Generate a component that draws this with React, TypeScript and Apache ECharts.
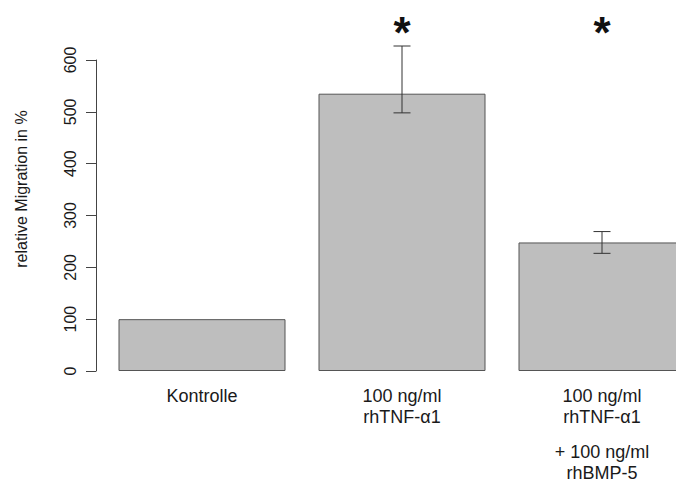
import React, { useEffect, useRef } from "react";
import * as echarts from "echarts";

const categories = [
  "Kontrolle",
  "100 ng/ml\nrhTNF-α1",
  "100 ng/ml\nrhTNF-α1\n+ 100 ng/ml\nrhBMP-5",
];
const migration = [100, 535, 248];
const errLow = [null, 498, 227];
const errHigh = [null, 627, 269];
const significance = ["", "*", "*"];
const starLevel = 696;
const yTicks = { min: 0, max: 600, interval: 100 };

const FONT = "'Liberation Sans', Arial, Helvetica, sans-serif";

export default function App() {
  const ref = useRef<HTMLDivElement>(null);

  useEffect(() => {
    if (!ref.current) return;
    const chart = echarts.init(ref.current, undefined, { renderer: "svg" });

    const errData = categories
      .map((_, i) => (errLow[i] == null ? null : [i, errLow[i], errHigh[i]]))
      .filter((d) => d != null);
    const starData = categories
      .map((_, i) => (significance[i] ? [i, starLevel, significance[i]] : null))
      .filter((d) => d != null);

    chart.setOption({
      animation: false,
      backgroundColor: "#ffffff",
      textStyle: { fontFamily: FONT },
      grid: {
        left: 102,
        right: 18,
        top: 60,
        bottom: 108,
        containLabel: false,
        outerBoundsMode: "none",
      },
      xAxis: {
        type: "category",
        data: categories,
        axisLine: { show: false },
        axisTick: { show: false },
        axisLabel: {
          interval: 0,
          margin: 14,
          color: "#1a1a1a",
          formatter: (v: string) => {
            const lines = v.split("\n");
            const out: string[] = [];
            lines.forEach((l) => {
              if (l.startsWith("+")) out.push("{g| }");
              out.push("{a|" + l + "}");
            });
            return out.join("\n");
          },
          rich: {
            a: { fontSize: 18, lineHeight: 21.5, fontFamily: FONT, color: "#1a1a1a" },
            g: { fontSize: 1, lineHeight: 13 },
          },
        },
      },
      yAxis: {
        type: "value",
        min: yTicks.min,
        max: yTicks.max,
        interval: yTicks.interval,
        offset: 6,
        name: "relative Migration in %",
        nameLocation: "middle",
        nameRotate: 90,
        nameGap: 67,
        nameTextStyle: {
          fontSize: 16,
          color: "#1a1a1a",
          fontFamily: FONT,
          padding: [0, 0, 0, 53],
        },
        axisLine: { show: true, lineStyle: { color: "#444", width: 1 } },
        axisTick: { show: true, length: 10, lineStyle: { color: "#444", width: 1 } },
        splitLine: { show: false },
        axisLabel: {
          rotate: 90,
          margin: 18,
          fontSize: 16,
          color: "#1a1a1a",
          fontFamily: FONT,
        },
      },
      series: [
        {
          type: "bar",
          data: migration,
          barWidth: 167,
          itemStyle: { color: "#bebebe", borderColor: "#555", borderWidth: 1 },
        },
        {
          type: "custom",
          data: errData,
          clip: false,
          encode: { x: 0, y: [1, 2] },
          renderItem: (params: any, api: any) => {
            const x = api.value(0);
            const top = api.coord([x, api.value(2)]);
            const bot = api.coord([x, api.value(1)]);
            const half = 8.5;
            const style = { stroke: "#333", lineWidth: 1 };
            return {
              type: "group",
              children: [
                { type: "line", shape: { x1: top[0], y1: top[1], x2: bot[0], y2: bot[1] }, style },
                { type: "line", shape: { x1: top[0] - half, y1: top[1], x2: top[0] + half, y2: top[1] }, style },
                { type: "line", shape: { x1: bot[0] - half, y1: bot[1], x2: bot[0] + half, y2: bot[1] }, style },
              ],
            };
          },
          z: 5,
        },
        {
          type: "custom",
          data: starData,
          clip: false,
          encode: { x: 0, y: 1 },
          renderItem: (params: any, api: any) => {
            const p = api.coord([api.value(0), api.value(1)]);
            return {
              type: "text",
              x: p[0],
              y: p[1],
              style: {
                text: String(starData[params.dataIndex]![2]),
                font: "bold 44px " + FONT,
                fill: "#111",
                textAlign: "center",
                textVerticalAlign: "top",
              },
            };
          },
          z: 6,
        },
      ],
    });

    return () => chart.dispose();
  }, []);

  return (
    <div
      style={{
        position: "fixed",
        left: 0,
        top: 0,
        width: 676,
        height: 479,
        overflow: "hidden",
        background: "#fff",
      }}
    >
      <div ref={ref} style={{ width: 720, height: 479 }} />
    </div>
  );
}
